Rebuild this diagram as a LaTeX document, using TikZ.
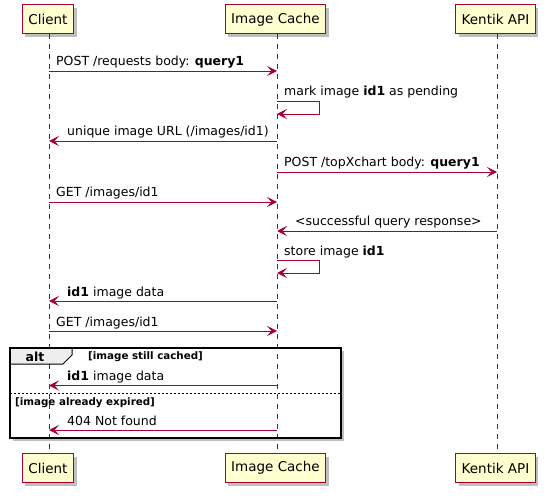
\documentclass[tikz,border=0pt]{standalone}
\usepackage{fontspec}
\setmainfont{DejaVu Sans}
\usetikzlibrary{arrows.meta}
\definecolor{pred}{HTML}{A80036}
\definecolor{pfill}{HTML}{FEFECE}
\definecolor{tabfill}{HTML}{EEEEEE}
\begin{document}
\begin{tikzpicture}[x=1pt,y=-1pt,
  part/.style={draw=pred,fill=pfill,line width=1pt,minimum height=29pt,inner xsep=6pt,font=\fontsize{13.5}{16}\selectfont,text=black},
  shadowed/.style={preaction={fill=black,opacity=0.25,transform canvas={xshift=3pt,yshift=-3pt}}},
  life/.style={draw=pred,line width=0.8pt,dash pattern=on 5pt off 5pt},
  msg/.style={draw=pred,line width=0.9pt,-{Stealth[length=10pt,width=10pt,inset=4.5pt]}},
  lbl/.style={font=\fontsize{12.5}{14}\selectfont,anchor=base west,inner sep=0pt},
  cond/.style={font=\bfseries\fontsize{10.3}{12}\selectfont,anchor=base west,inner sep=0pt},
]
\useasboundingbox (0,0) rectangle (549,497);
% participants
\node[part,shadowed] (ct) at (48,19.5) {Client};
\node[part,shadowed] (it) at (275.5,19.5) {Image Cache};
\node[part,shadowed] (kt) at (495.5,19.5) {Kentik API};
\node[part,shadowed] (cb) at (48,468) {Client};
\node[part,shadowed] (ib) at (275.5,468) {Image Cache};
\node[part,shadowed] (kb) at (495.5,468) {Kentik API};
% lifelines
\coordinate (cl1) at (49,34); \coordinate (cl2) at (49,453.5);
\coordinate (il1) at (277,34); \coordinate (il2) at (277,453.5);
\coordinate (kl1) at (497,34); \coordinate (kl2) at (497,453.5);
% alt frame
\coordinate (fa) at (10,348); \coordinate (fb) at (341,438);
\fill[black,opacity=0.25] (13,351) rectangle (344,441);
\fill[white] (fa) rectangle (fb);
\draw[life] (cl1) -- (cl2);
\draw[life] (il1) -- (il2);
\draw[life] (kl1) -- (kl2);
\coordinate (t1) at (72,348); \coordinate (t2) at (72,355); \coordinate (t3) at (63,364); \coordinate (t4) at (10,364);
\draw[line width=1pt,fill=tabfill] (fa) -- (t1) -- (t2) -- (t3) -- (t4) -- cycle;
\draw[line width=1.5pt] (fa) rectangle (fb);
\node[font=\bfseries\fontsize{12.5}{14}\selectfont,inner sep=0pt] (alt) at (35,356.5) {alt};
\node[cond] (c1) at (88,359.5) {[image still cached]};
\coordinate (sep1) at (10,393); \coordinate (sep2) at (341,393);
\draw[line width=0.8pt,dash pattern=on 2pt off 2pt] (sep1) -- (sep2);
\node[cond] (c2) at (15,405.5) {[image already expired]};
% message coordinates
\coordinate (m1a) at (49,71);  \coordinate (m1b) at (277,71);
\coordinate (m2a) at (277,101); \coordinate (m2r) at (319,101); \coordinate (m2s) at (319,114); \coordinate (m2b) at (277,114);
\coordinate (m3a) at (277,141); \coordinate (m3b) at (49,141);
\coordinate (m4a) at (277,172); \coordinate (m4b) at (497,172);
\coordinate (m5a) at (49,202); \coordinate (m5b) at (277,202);
\coordinate (m6a) at (497,231); \coordinate (m6b) at (277,231);
\coordinate (m7a) at (277,260); \coordinate (m7r) at (319,260); \coordinate (m7s) at (319,273); \coordinate (m7b) at (277,273);
\coordinate (m8a) at (277,301); \coordinate (m8b) at (49,301);
\coordinate (m9a) at (49,331); \coordinate (m9b) at (277,331);
\coordinate (m10a) at (277,385.5); \coordinate (m10b) at (49,385.5);
\coordinate (m11a) at (277,430); \coordinate (m11b) at (49,430);
% messages
\draw[msg] (m1a) -- (m1b);
\node[lbl] (l1) at (56,66) {POST /requests body: \textbf{query1}};
\draw[msg] (m2a) -- (m2r) -- (m2s) -- (m2b);
\node[lbl] (l2) at (284,96) {mark image \textbf{id1} as pending};
\draw[msg] (m3a) -- (m3b);
\node[lbl] (l3) at (67,136) {unique image URL (/images/id1)};
\draw[msg] (m4a) -- (m4b);
\node[lbl] (l4) at (284,167) {POST /topXchart body: \textbf{query1}};
\draw[msg] (m5a) -- (m5b);
\node[lbl] (l5) at (56,197) {GET /images/id1};
\draw[msg] (m6a) -- (m6b);
\node[lbl] (l6) at (295,226) {<successful query response>};
\draw[msg] (m7a) -- (m7r) -- (m7s) -- (m7b);
\node[lbl] (l7) at (284,255) {store image \textbf{id1}};
\draw[msg] (m8a) -- (m8b);
\node[lbl] (l8) at (67,296) {\textbf{id1} image data};
\draw[msg] (m9a) -- (m9b);
\node[lbl] (l9) at (56,326) {GET /images/id1};
\draw[msg] (m10a) -- (m10b);
\node[lbl] (l10) at (67,380.5) {\textbf{id1} image data};
\draw[msg] (m11a) -- (m11b);
\node[lbl] (l11) at (67,425) {404 Not found};
\end{tikzpicture}
\end{document}
